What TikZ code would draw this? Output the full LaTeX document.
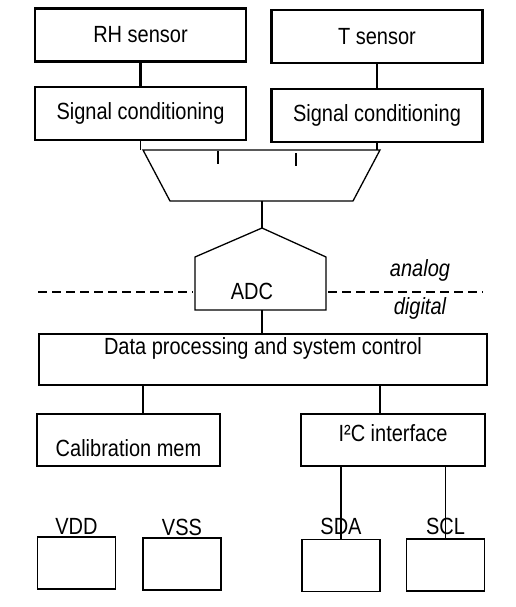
\documentclass[tikz,border=0pt]{standalone}
\usepackage{fontspec}
\setmainfont{Liberation Sans}
\newcommand{\tx}[1]{\scalebox{1}[1.17]{#1}}

\begin{document}
\begin{tikzpicture}[
    x=1pt, y=-1pt,
    block/.style={draw,line width=1.8pt,inner sep=0pt,font=\fontsize{20}{24}\selectfont},
    sensor/.style={block,line width=2.6pt,minimum width=211pt,minimum height=53pt},
    pin/.style={block,minimum width=78pt,minimum height=52pt},
    wire/.style={line width=1.8pt},
    thin/.style={line width=1.3pt}
    ]
    \useasboundingbox (0,0) rectangle (515,607);

    % sensors and conditioning:
    \node (rh) at (140.5, 35) [sensor] {\tx{RH sensor}};
    \node (ts) at (377, 36.5) [sensor] {\tx{T sensor}};
    \node (sc1) at (140.5, 113.5) [sensor] {\tx{Signal conditioning}};
    \node (sc2) at (377, 115.5) [sensor] {\tx{Signal conditioning}};

    % multiplexer:
    \coordinate (muxtop) at (262, 150);
    \coordinate (muxbot) at (262, 201);
    \draw[thin] (143, 150) -- (380, 150) -- (353, 201) -- (170, 201) -- cycle;
    \draw[wire] (218, 151) -- (218, 164);
    \draw[wire] (296, 153) -- (296, 166);

    % ADC:
    \coordinate (adctop) at (262, 228);
    \coordinate (adcbot) at (262, 310);
    \draw[thin] (adctop) -- (326, 257) -- (326, 310) -- (195, 310) -- (195, 257) -- cycle;
    \node (adc) at (252, 291) [font=\fontsize{20}{24}\selectfont] {\tx{ADC}};

    % analog / digital border:
    \draw[thin,dash pattern=on 9pt off 5pt] (38, 292) -- (193, 292);
    \draw[thin,dash pattern=on 9pt off 5pt] (328, 292) -- (483, 292);
    \node (ana) at (420, 270) [font=\fontsize{20}{24}\selectfont\itshape] {\tx{analog}};
    \node (dig) at (420, 308) [font=\fontsize{20}{24}\selectfont\itshape] {\tx{digital}};

    % digital part:
    \node (dp) at (263, 359.5) [block,minimum width=448pt,minimum height=51pt,
      label={[yshift=11.5pt,font=\fontsize{20}{24}\selectfont]center:\tx{Data processing and system control}}] {};
    \node (cal) at (128.5, 440) [block,minimum width=183pt,minimum height=52pt,
      label={[yshift=-8pt,font=\fontsize{20}{24}\selectfont]center:\tx{Calibration mem}}] {};
    \node (i2c) at (393, 440) [block,minimum width=184pt,minimum height=52pt,
      label={[yshift=7pt,font=\fontsize{20}{24}\selectfont]center:\tx{I²C interface}}] {};

    % pins:
    \node (vdd) at (76.5, 563) [pin,label={[inner sep=0pt,yshift=1pt,font=\fontsize{20}{24}\selectfont]above:\tx{VDD}}] {};
    \node (vss) at (182, 564) [pin,label={[inner sep=0pt,yshift=1pt,font=\fontsize{20}{24}\selectfont]above:\tx{VSS}}] {};
    \node (sda) at (341, 565.5) [pin,label={[inner sep=0pt,yshift=3.5pt,font=\fontsize{20}{24}\selectfont]above:\tx{SDA}}] {};
    \node (scl) at (445.5, 565) [pin,label={[inner sep=0pt,yshift=3pt,font=\fontsize{20}{24}\selectfont]above:\tx{SCL}}] {};

    % connections:
    \coordinate (calx) at (143, 0);
    \coordinate (i2cx) at (380, 0);
    \draw[wire,line width=2.6pt] (rh) -- (sc1);
    \draw[wire,line width=2.6pt] (ts) -- (sc2);
    \draw[wire] (sc1.south) -- (sc1.south |- muxtop);
    \draw[wire] (sc2.south) -- (sc2.south |- muxtop);
    \draw[thin] (muxbot) -- (adctop);
    \draw[wire] (adcbot) -- (dp.north -| adcbot);
    \draw[wire] (dp.south -| calx) -- (cal.north -| calx);
    \draw[wire] (dp.south -| i2cx) -- (i2c.north -| i2cx);
    \draw[wire] (i2c.south -| sda.north) -- (sda.north);
    \draw[wire] (i2c.south -| scl.north) -- (scl.north);

  \end{tikzpicture}
\end{document}
